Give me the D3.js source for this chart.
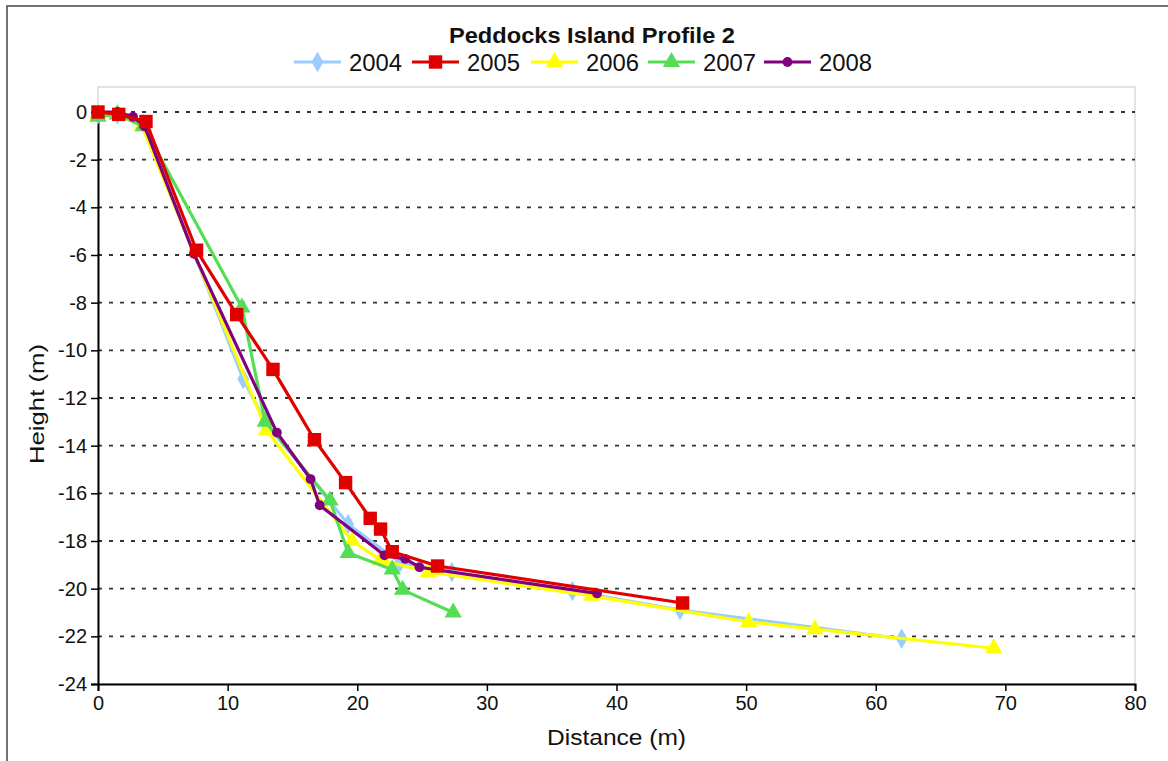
<!DOCTYPE html>
<html><head><meta charset="utf-8">
<script src="https://cdn.jsdelivr.net/npm/d3@7"></script>
<style>
html,body{margin:0;padding:0;background:#fff;}
svg{display:block;font-family:"Liberation Sans",Arial,sans-serif;}
</style></head>
<body><svg id="c" width="1168" height="761"></svg>
<script>
const title = "Peddocks Island Profile 2";
const xLabel = "Distance (m)";
const yLabel = "Height (m)";
const xTicks = [0,10,20,30,40,50,60,70,80];
const yTicks = [0,-2,-4,-6,-8,-10,-12,-14,-16,-18,-20,-22,-24];
const years = ["2004","2005","2006","2007","2008"];
const colors = ["#99ccff","#e00000","#ffff00","#55dd55","#800080"];
const shapes = ["diamond","square","triangle","triangle","circle"];

const d2004 = [[0,-0.1],[1.5,-0.1],[3.5,-0.5],[11.2,-11.2],[12.9,-13.0],[19.3,-17.3],[23.3,-18.9],[27.3,-19.3],[36.6,-20.1],[44.9,-20.9],[62.0,-22.1]];
const d2005 = [[0,0],[1.6,-0.1],[3.7,-0.4],[7.6,-5.8],[10.7,-8.5],[13.5,-10.8],[16.7,-13.75],[19.1,-15.55],[21.0,-17.05],[21.8,-17.5],[22.7,-18.45],[26.2,-19.05],[45.1,-20.6]];
const d2006 = [[0,-0.1],[1.5,-0.1],[3.4,-0.6],[13.0,-13.35],[19.6,-18.0],[21.8,-18.8],[25.5,-19.3],[38.1,-20.3],[50.2,-21.4],[55.3,-21.7],[69.1,-22.5]];
const d2007 = [[0,-0.2],[1.5,-0.1],[3.5,-0.6],[11.1,-8.2],[12.9,-13.0],[17.9,-16.3],[19.3,-18.5],[22.7,-19.2],[23.5,-20.05],[27.4,-21.0]];
const d2008 = [[0,0],[1.5,0],[2.7,-0.2],[3.6,-0.6],[7.4,-5.95],[13.8,-13.45],[16.4,-15.4],[17.1,-16.5],[22.1,-18.6],[23.7,-18.75],[24.8,-19.1],[38.5,-20.2]];
const seriesData = [d2004,d2005,d2006,d2007,d2008];
const drawOrder = [0,2,3,4,1];

const svg = d3.select("#c");
const x = d3.scaleLinear().domain([0,80]).range([98,1135]);
const y = d3.scaleLinear().domain([-24,0]).range([684,112]);

// outer border
svg.append("rect").attr("x",7).attr("y",6).attr("width",1200).attr("height",800)
  .attr("fill","none").attr("stroke","#444").attr("stroke-width",1.5);

// plot frame
svg.append("rect").attr("x",x(0)).attr("y",y(0)-25).attr("width",x(80)-x(0)).attr("height",y(-24)-y(0)+25)
  .attr("fill","none").attr("stroke","#c8c8c8").attr("stroke-width",1);

// gridlines
svg.append("g").selectAll("line").data(yTicks.filter(d=>d>-24)).join("line")
  .attr("x1",x(0)).attr("x2",x(80)).attr("y1",d=>y(d)).attr("y2",d=>y(d))
  .attr("stroke","#333").attr("stroke-width",1.8).attr("stroke-dasharray","4,7");

// axes
const ya = svg.append("g").attr("transform",`translate(${x(0)},0)`)
  .call(d3.axisLeft(y).tickValues(yTicks).tickSize(7).tickPadding(4).tickFormat(d=>d3.format("d")(d).replace("−","-")));
const xa = svg.append("g").attr("transform",`translate(0,${y(-24)})`)
  .call(d3.axisBottom(x).tickValues(xTicks).tickSize(7).tickPadding(5));
[ya,xa].forEach(a=>{
  a.select(".domain").attr("stroke","#000").attr("stroke-width",2);
  a.selectAll(".tick line").attr("stroke","#000").attr("stroke-width",1.5);
  a.selectAll(".tick text").attr("fill","#111").style("font-size","20px").style("font-family","'Liberation Sans',Arial,sans-serif");
});

// axis titles
svg.append("text").attr("x",(x(0)+x(80))/2).attr("y",745).attr("text-anchor","middle")
  .style("font-size","22px").attr("fill","#111").attr("textLength",139).attr("lengthAdjust","spacingAndGlyphs").text(xLabel);
svg.append("text").attr("transform",`translate(44,${(y(-10)+y(-14))/2 + 6}) rotate(-90)`).attr("text-anchor","middle")
  .style("font-size","21px").attr("fill","#111").attr("textLength",120).attr("lengthAdjust","spacingAndGlyphs").text(yLabel);

// title
svg.append("text").attr("x",592).attr("y",43).attr("text-anchor","middle")
  .style("font-size","22px").style("font-weight","bold").attr("fill","#111")
  .attr("textLength",286).attr("lengthAdjust","spacingAndGlyphs").text(title);

function symbolFor(s){
  if(s==="diamond") return d3.symbol(d3.symbolDiamond, 120);
  if(s==="square") return d3.symbol(d3.symbolSquare, 180);
  if(s==="triangle") return d3.symbol(d3.symbolTriangle, 130);
  return d3.symbol(d3.symbolCircle, 75);
}

const line = d3.line().x(d=>x(d[0])).y(d=>y(d[1]));
drawOrder.forEach(i=>{
  const g = svg.append("g");
  g.append("path").attr("d",line(seriesData[i])).attr("fill","none")
    .attr("stroke",colors[i]).attr("stroke-width",3.2).attr("stroke-linejoin","round");
  g.selectAll("path.m").data(seriesData[i]).join("path").attr("class","m")
    .attr("d",symbolFor(shapes[i])())
    .attr("transform",d=>`translate(${x(d[0])},${y(d[1])})`)
    .attr("fill",colors[i]);
});

// legend
const legX = [294,412,531,648,764];
const leg = svg.append("g");
years.forEach((yr,i)=>{
  const lg = leg.append("g").attr("transform",`translate(${legX[i]},62)`);
  lg.append("line").attr("x1",0).attr("x2",47).attr("y1",0).attr("y2",0)
    .attr("stroke",colors[i]).attr("stroke-width",3.2);
  lg.append("path").attr("d",symbolFor(shapes[i])()).attr("transform","translate(23.5,0)").attr("fill",colors[i]);
  lg.append("text").attr("x",55).attr("y",9).style("font-size","23px").attr("fill","#111")
    .attr("textLength",53).attr("lengthAdjust","spacingAndGlyphs").text(yr);
});
</script></body></html>
